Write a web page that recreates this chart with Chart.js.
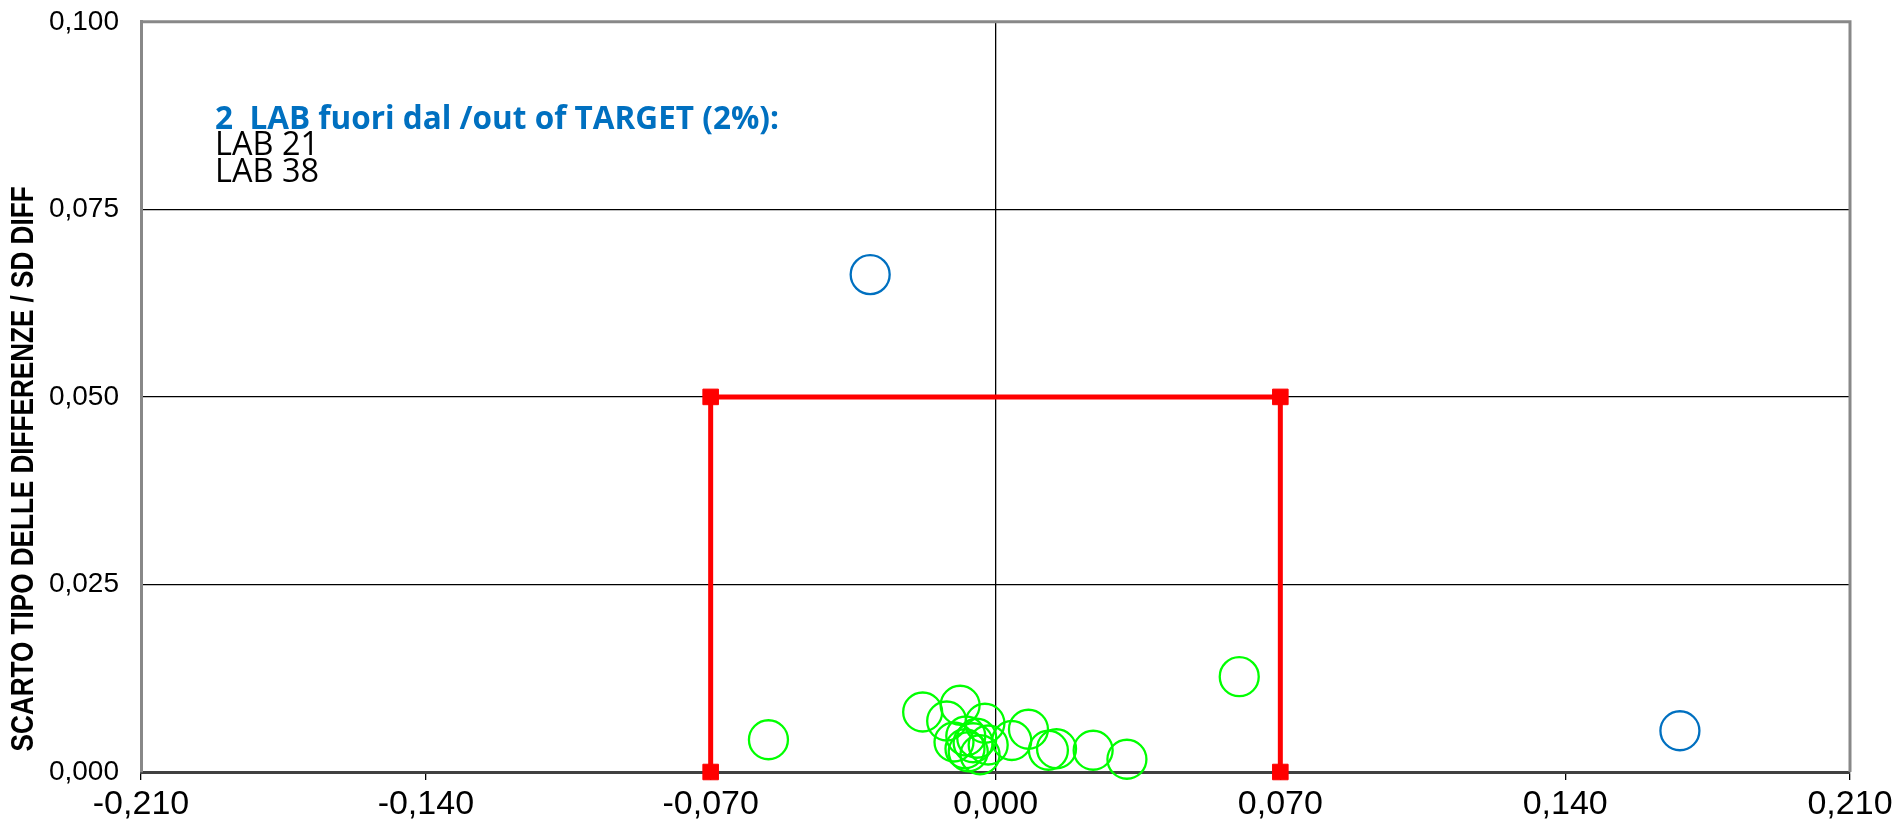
<!DOCTYPE html>
<html>
<head>
<meta charset="utf-8">
<script src="https://cdn.jsdelivr.net/npm/chart.js@4"></script>
<style>
  body { margin: 0; background: #fff; }
  #wrap { width: 1903px; height: 819px; }
</style>
</head>
<body>
<div id="wrap"><canvas id="scatterChart" width="1903" height="819"></canvas></div>
<script>
"use strict"

// labs inside target (green)
const greenX = [-0.0558, 0.0599, -0.0179, -0.0087, -0.0120, -0.0026, -0.0102, -0.0073, -0.0055, -0.0075,
                -0.0038, -0.0018, 0.0040, 0.0081, 0.0130, 0.0150, 0.0240, 0.0323, -0.0046, -0.0067];
const greenY = [0.0043, 0.0127, 0.0080, 0.0089, 0.0068, 0.0065, 0.0040, 0.0048, 0.0039, 0.0031,
                0.0023, 0.0036, 0.0042, 0.0057, 0.0029, 0.0031, 0.0029, 0.0017, 0.0045, 0.0027];
// labs out of target (blue)
const blueX = [-0.0308, 0.1682];
const blueY = [0.0663, 0.0055];
// target box
const limitX = [-0.07, -0.07, 0.07, 0.07];
const limitY = [0, 0.05, 0.05, 0];

const xTicks = [-0.21, -0.14, -0.07, 0, 0.07, 0.14, 0.21];
const yTicks = [0, 0.025, 0.05, 0.075, 0.1];

const yTitle = 'SCARTO TIPO DELLE DIFFERENZE / SD DIFF';
const noteTitle = '2  LAB fuori dal /out of TARGET (2%):';
const noteLines = ['LAB 21', 'LAB 38'];

const toPoints = (xs, ys) => xs.map((x, i) => ({ x: x, y: ys[i] }));
const fmt = v => v.toFixed(3).replace('.', ',');

document.addEventListener("DOMContentLoaded", () => {
  drawScatter();
});

function drawScatter() {
  const framePlugin = {
    id: 'frame',
    beforeDatasetsDraw(chart) {
      const { ctx, chartArea: a } = chart;
      ctx.save();
      ctx.strokeStyle = '#888888';
      ctx.lineWidth = 3;
      ctx.beginPath();
      ctx.moveTo(a.left, a.top);
      ctx.lineTo(a.right, a.top);
      ctx.lineTo(a.right, a.bottom);
      ctx.stroke();
      ctx.restore();
    },
    afterDraw(chart) {
      const { ctx, chartArea: a } = chart;
      ctx.save();
      // y axis title, sits a bit below the middle of the plot like the original
      ctx.translate(24, (a.top + a.bottom) / 2 + 72);
      ctx.rotate(-Math.PI / 2);
      ctx.textAlign = 'center';
      ctx.textBaseline = 'middle';
      ctx.fillStyle = '#000000';
      ctx.font = 'bold 31px "Liberation Sans Narrow", "Liberation Sans", Arial';
      ctx.fillText(yTitle, 0, 0, 565);
      ctx.restore();

      ctx.save();
      ctx.textBaseline = 'alphabetic';
      ctx.textAlign = 'left';
      const x0 = a.left + 74;
      ctx.font = 'bold 32px "Open Sans"';
      ctx.fillStyle = '#0070C0';
      ctx.fillText(noteTitle, x0, 129, 564);
      ctx.font = '33px "Open Sans"';
      ctx.fillStyle = '#000000';
      noteLines.forEach((t, i) => ctx.fillText(t, x0, 155 + i * 27, 104));
      ctx.restore();
    }
  };

  const options = {
    type: 'scatter',
    data: {
      datasets: [
        {
          label: 'target',
          data: toPoints(limitX, limitY),
          showLine: true,
          borderColor: '#ff0000',
          backgroundColor: '#ff0000',
          borderWidth: 5,
          pointStyle: 'rect',
          pointRadius: 11,
          pointBorderWidth: 1,
          clip: false,
          order: 3
        },
        {
          label: 'in',
          data: toPoints(greenX, greenY),
          borderColor: '#00ff00',
          backgroundColor: 'rgba(0,0,0,0)',
          pointRadius: 19.5,
          borderWidth: 2.3,
          clip: false,
          order: 2
        },
        {
          label: 'out',
          data: toPoints(blueX, blueY),
          borderColor: '#0070C0',
          backgroundColor: 'rgba(0,0,0,0)',
          pointRadius: 19.5,
          borderWidth: 2.3,
          clip: false,
          order: 1
        }
      ]
    },
    options: {
      responsive: false,
      devicePixelRatio: 1,
      animation: false,
      layout: { padding: { top: 18, right: 53, left: 0, bottom: 0 } },
      plugins: {
        legend: { display: false },
        tooltip: { enabled: false }
      },
      scales: {
        x: {
          type: 'linear',
          min: -0.21,
          max: 0.21,
          afterBuildTicks: s => { s.ticks = xTicks.map(v => ({ value: v })); },
          afterFit: s => { s.height = 47; s.paddingLeft = 0; s.paddingRight = 0; },
          border: { color: '#404040', width: 3 },
          grid: {
            color: c => (c.tick && Math.abs(c.tick.value) < 1e-9 ? '#000000' : 'rgba(0,0,0,0)'),
            lineWidth: 1.3,
            drawTicks: true,
            tickLength: 8,
            tickColor: '#000000'
          },
          ticks: {
            padding: 4,
            color: '#000000',
            font: { family: '"Liberation Sans Narrow", "Liberation Sans", Arial', size: 34 },
            callback: v => fmt(v)
          }
        },
        y: {
          type: 'linear',
          min: 0,
          max: 0.1,
          afterBuildTicks: s => { s.ticks = yTicks.map(v => ({ value: v })); },
          afterFit: s => { s.width = 141; s.paddingTop = 0; s.paddingBottom = 0; },
          border: { color: '#888888', width: 3 },
          grid: {
            color: c => (c.tick && c.tick.value > 0.001 && c.tick.value < 0.099 ? '#000000' : 'rgba(0,0,0,0)'),
            lineWidth: 1.3,
            drawTicks: false,
            tickLength: 0
          },
          ticks: {
            padding: 22,
            color: '#000000',
            font: { family: '"Liberation Sans", Arial', size: 28 },
            callback: v => fmt(v)
          }
        }
      }
    },
    plugins: [framePlugin]
  };
  const ctx = document.getElementById('scatterChart');
  new Chart(ctx, options)
}
</script>
</body>
</html>
